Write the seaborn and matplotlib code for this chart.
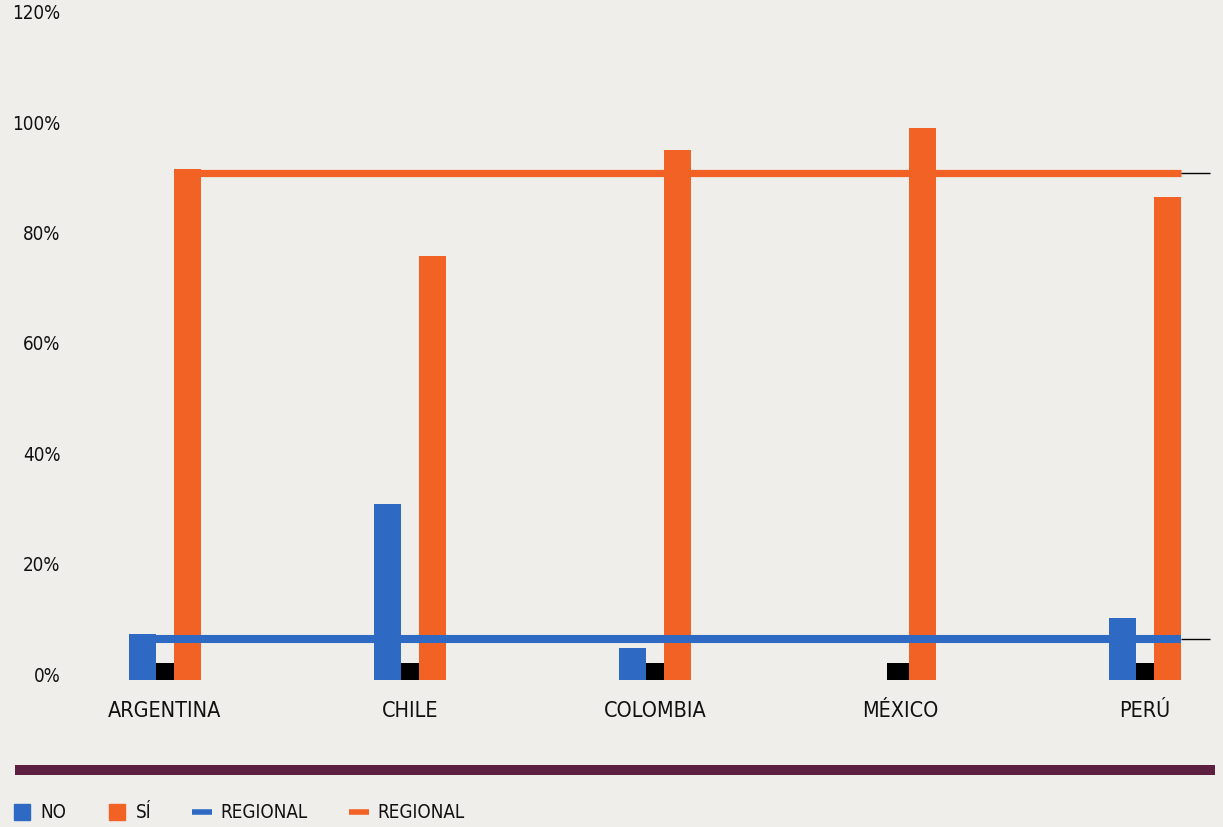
import pandas as pd
import seaborn as sns
import matplotlib
import matplotlib.pyplot as plt
from matplotlib.patches import Rectangle
from matplotlib.lines import Line2D
from matplotlib import font_manager, transforms

# Data
paises = ["ARGENTINA", "CHILE", "COLOMBIA", "MÉXICO", "PERÚ"]
no = [8.3, 31.9, 5.8, 0.0, 11.2]
si = [92.6, 76.8, 96.1, 100.0, 87.5]
ns_nr = [3.1, 3.1, 3.1, 3.1, 3.1]
regional_no = 7.5
regional_si = 91.8
y_ticks = [0, 20, 40, 60, 80, 100, 120]

BLUE = "#2e69c4"
ORANGE = "#f26224"
BG = "#efeeea"
MAROON = "#5c1f40"

sns.set_theme(style="white")
names = {f.name for f in font_manager.fontManager.ttflist}
family = [f for f in ["Liberation Sans Narrow", "DejaVu Sans"] if f in names]
plt.rcParams["font.family"] = family + ["DejaVu Sans"]
plt.rcParams["font.stretch"] = "condensed"

df = pd.DataFrame(
    {
        "pais": paises * 2,
        "serie": ["NO"] * len(paises) + ["SÍ"] * len(paises),
        "valor": no + si,
    }
)
df_nsnr = pd.DataFrame({"pais": paises, "valor": ns_nr})

W, H = 1223, 827
fig = plt.figure(figsize=(W / 100, H / 100), dpi=100, facecolor=BG)
ax = fig.add_axes([66 / W, (H - 680) / H, (1215 - 66) / W, (680 - 17.6) / H])
ax.set_facecolor(BG)

# black bars sit behind the NO / SÍ pair
sns.barplot(data=df_nsnr, x="pais", y="valor", order=paises, color="black",
            width=0.106, saturation=1, errorbar=None, linewidth=0,
            ax=ax, zorder=1)
sns.barplot(data=df, x="pais", y="valor", hue="serie", hue_order=["NO", "SÍ"],
            order=paises, palette=[BLUE, ORANGE], width=0.369, gap=0.42,
            saturation=1, errorbar=None, legend=False, linewidth=0,
            ax=ax, zorder=2)

off, bw = 0.0923, 0.106
x_end = len(paises) - 1 + off + bw / 2
ax.hlines(regional_no, -off - bw / 2, x_end, color=BLUE, lw=5.8, zorder=3)
ax.hlines(regional_si, off - bw / 2, x_end, color=ORANGE, lw=5.2, zorder=3)
ax.hlines([regional_no, regional_si], x_end, x_end + 0.12, color="black",
          lw=1, zorder=3, clip_on=False)

ax.set_xlim(-99 / 245, len(paises) - 1 + 70 / 245)
ax.set_ylim(0, 120)
ax.set_yticks(y_ticks)
ax.yaxis.set_major_formatter(matplotlib.ticker.StrMethodFormatter("{x:.0f}%"))
ax.tick_params(axis="y", length=0, pad=4, labelsize=13.5, labelcolor="#111111")
ax.tick_params(axis="x", length=0, pad=15, labelsize=15.5, labelcolor="#111111")
ax.set_xlabel("")
ax.set_ylabel("")
sns.despine(ax=ax, left=True, bottom=True)

shift = transforms.ScaledTranslation(0, 0.06, fig.dpi_scale_trans)
for label in ax.get_yticklabels():
    label.set_transform(label.get_transform() + shift)

# maroon band
fig.add_artist(Rectangle((15 / W, (H - 775) / H), (1215 - 15) / W, 10 / H,
                         transform=fig.transFigure, color=MAROON, lw=0))

handles = [
    Line2D([], [], color=BLUE, ls="", marker="s", markersize=11, label="NO"),
    Line2D([], [], color=ORANGE, ls="", marker="s", markersize=11, label="SÍ"),
    Line2D([], [], color=BLUE, lw=4, solid_capstyle="butt", label="REGIONAL"),
    Line2D([], [], color=ORANGE, lw=4, solid_capstyle="butt", label="REGIONAL"),
]
fig.legend(handles=handles, loc="center left", bbox_to_anchor=(12 / W, 14 / H),
           ncol=4, frameon=False, fontsize=13.5, handlelength=1.05,
           handletextpad=0.45, columnspacing=2.2,
           borderpad=0, borderaxespad=0, labelcolor="#111111")

fig.savefig("out.png", dpi=100, facecolor=BG)
